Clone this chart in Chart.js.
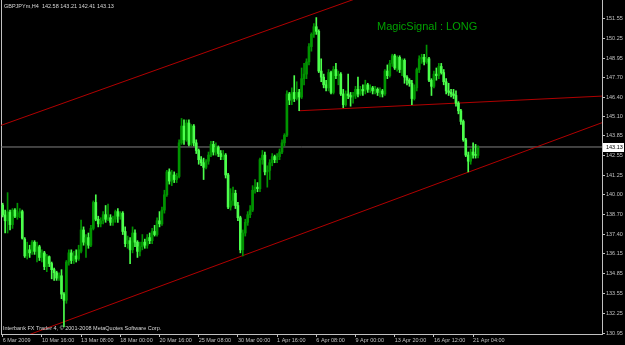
<!DOCTYPE html>
<html lang="en">
<head>
<meta charset="UTF-8">
<title>GBPJPYm,H4</title>
<script src="https://cdn.jsdelivr.net/npm/chart.js@4"></script>
<style>
  html, body { margin: 0; padding: 0; background: #000; }
  canvas { display: block; }
</style>
</head>
<body>
<canvas id="chart" width="625" height="345"></canvas>
<script>
const symbolTitle = 'GBPJPYm,H4';
const footerText = 'Interbank FX Trader 4, \u00a9 2001-2008 MetaQuotes Software Corp.';
const signalText = 'MagicSignal : LONG';

// H4 bars, oldest first
const opens = [
  139.33,138.68,138.30,138.85,138.05,139.00,138.55,138.80,138.90,137.10,
  136.00,136.40,136.30,136.90,136.30,136.60,135.90,136.20,135.30,135.95,
  135.50,135.10,134.90,134.55,134.70,133.50,133.10,135.60,136.20,135.70,
  136.00,135.80,136.30,137.70,136.80,137.20,136.70,137.80,139.50,138.40,
  138.10,138.30,138.70,138.40,138.50,138.20,138.40,138.90,138.60,138.80,
  137.60,136.80,137.00,136.40,137.50,136.90,136.30,136.60,136.90,136.70,
  137.20,137.00,137.60,137.40,138.30,138.10,139.00,140.00,141.50,140.90,
  141.30,141.00,141.20,143.40,144.50,143.60,144.70,143.30,144.50,143.40,
  142.90,142.30,142.10,141.80,142.20,142.60,143.30,142.80,143.10,142.70,
  142.50,142.60,141.30,139.20,139.60,140.10,139.30,138.50,136.40,137.50,
  138.20,138.70,139.00,140.30,140.50,140.40,142.30,142.60,141.50,141.60,
  142.10,142.50,142.30,142.50,142.80,143.40,143.90,146.60,146.20,146.70,
  146.30,146.70,146.40,147.60,147.90,148.70,149.70,150.50,151.00,150.70,
  148.10,147.70,147.20,147.00,148.00,146.70,148.20,147.80,147.90,146.60,
  145.90,146.60,146.50,146.40,146.50,146.90,146.60,146.90,146.80,147.20,
  146.90,147.00,146.80,146.90,146.70,146.80,146.60,148.10,147.80,148.60,
  149.10,148.30,149.00,148.20,148.80,147.70,147.50,147.30,146.30,147.00,
  148.20,148.90,149.00,148.70,148.90,147.50,147.10,147.90,147.80,148.40,
  148.00,147.40,146.80,146.70,146.60,146.50,146.00,145.50,144.80,143.60,
  142.60,142.20,142.80,142.60,142.58
];
const highs = [
  139.45,139.00,140.14,139.00,139.10,139.10,139.45,139.10,139.00,137.20,
  136.90,136.70,137.00,137.00,136.90,136.70,136.40,136.30,136.10,136.00,
  135.60,135.20,135.00,134.90,135.10,133.60,135.70,136.40,136.40,136.30,
  136.40,136.70,138.35,137.90,137.40,137.50,138.00,139.60,140.00,138.60,
  138.50,138.90,139.30,139.40,138.70,138.60,139.00,139.10,138.90,138.90,
  137.90,137.30,137.20,137.90,137.70,137.00,136.90,137.40,137.10,137.40,
  137.50,137.80,138.00,138.50,138.90,139.20,140.30,141.60,141.70,141.60,
  141.50,141.40,143.60,145.00,144.90,144.90,144.90,144.60,144.60,143.60,
  143.00,142.50,142.40,142.30,142.80,143.50,143.50,143.40,143.20,142.90,
  142.90,142.70,141.40,140.40,140.50,140.30,139.50,138.60,137.70,138.40,
  138.90,139.30,140.60,141.00,140.80,142.40,142.90,142.80,141.90,142.30,
  142.70,142.60,142.70,143.00,143.60,144.00,146.80,146.70,147.00,147.80,
  147.40,146.90,148.30,148.60,148.90,149.90,150.60,151.20,151.60,150.80,
  148.90,147.90,147.50,148.20,148.10,148.40,148.60,148.10,148.00,146.90,
  146.80,147.90,146.70,146.70,147.10,147.70,147.10,147.20,147.50,147.30,
  147.20,147.10,147.10,147.00,147.00,146.90,148.20,148.50,148.80,149.20,
  149.20,149.10,149.10,148.90,148.90,147.80,147.60,147.50,147.20,148.30,
  149.10,149.20,149.20,149.80,149.00,147.60,148.10,148.30,148.60,148.60,
  148.20,147.60,147.30,146.90,146.90,146.80,146.10,145.60,144.90,143.70,
  142.80,143.00,143.40,143.30,143.21
];
const lows = [
  138.55,137.50,137.50,137.70,137.80,138.50,138.40,138.50,137.10,135.90,
  135.80,135.90,136.10,136.10,135.60,135.70,135.60,135.10,134.97,135.30,
  134.50,134.40,134.40,134.40,133.20,131.35,132.90,135.40,135.50,135.50,
  135.60,135.70,136.20,136.70,135.90,136.50,136.60,137.70,138.30,137.90,
  137.90,138.10,138.20,138.30,138.00,138.00,138.20,138.20,138.40,137.40,
  136.60,136.50,135.50,136.20,136.60,135.90,136.00,136.40,136.50,136.50,
  136.80,136.80,137.30,137.30,137.90,138.00,138.80,139.90,140.70,140.60,
  140.80,140.80,141.10,143.30,143.30,143.50,143.20,143.20,143.20,142.70,
  142.00,141.90,141.00,141.70,142.00,142.50,142.60,142.60,142.50,142.30,
  142.30,141.10,139.10,139.00,139.30,139.10,138.30,136.20,136.00,137.30,
  138.00,138.50,138.90,140.10,140.20,140.20,142.00,141.30,140.50,141.00,
  141.90,142.10,142.10,142.30,142.70,143.20,143.80,145.90,145.90,146.10,
  146.20,145.50,146.30,147.20,147.60,148.50,149.40,150.30,150.50,148.00,
  147.40,147.00,146.80,146.80,146.60,146.60,147.60,147.20,146.50,145.70,
  145.80,146.30,145.80,146.00,146.30,146.40,146.50,146.50,146.60,146.70,
  146.70,146.60,146.60,146.50,146.40,146.40,146.50,147.60,147.70,148.40,
  148.20,148.10,148.00,147.80,147.30,147.20,147.10,145.90,146.20,146.80,
  148.00,148.60,148.50,148.60,147.40,146.50,147.00,147.50,147.60,147.90,
  147.20,146.60,146.50,146.40,146.30,145.80,145.30,144.60,143.50,142.50,
  141.50,142.00,142.40,142.40,142.41
];
const closes = [
  138.68,138.30,138.90,138.05,139.00,138.60,138.80,138.90,137.15,136.00,
  136.40,136.20,136.90,136.30,136.60,135.90,136.20,135.30,135.95,135.50,
  135.10,134.90,134.55,134.70,133.50,133.10,135.60,136.20,135.70,136.00,
  135.80,136.40,137.70,136.90,137.20,136.70,137.80,139.50,138.40,138.10,
  138.30,138.70,138.40,138.50,138.20,138.40,138.90,138.60,138.80,137.60,
  136.80,137.00,136.40,137.50,136.90,136.30,136.60,136.90,136.70,137.20,
  137.00,137.60,137.40,138.30,138.10,139.00,140.00,141.50,140.90,141.30,
  141.00,141.20,143.40,144.50,143.60,144.70,143.30,144.50,143.40,142.90,
  142.30,142.10,141.80,142.20,142.60,143.30,142.80,143.10,142.70,142.50,
  142.60,141.30,139.20,139.60,140.10,139.30,138.50,136.40,137.50,138.20,
  138.70,139.00,140.30,140.50,140.40,142.30,142.60,141.50,141.60,142.10,
  142.50,142.30,142.50,142.80,143.40,143.90,146.60,146.20,146.70,146.30,
  146.70,146.40,147.60,147.90,148.70,149.70,150.50,151.00,150.70,148.10,
  147.70,147.20,147.00,148.00,146.70,148.20,147.80,147.90,146.60,145.90,
  146.60,146.50,146.40,146.50,146.90,146.60,146.90,146.80,147.20,146.90,
  147.00,146.80,146.90,146.70,146.80,146.60,148.10,147.80,148.60,149.10,
  148.30,149.00,148.20,148.80,147.70,147.50,147.30,146.30,147.00,148.20,
  148.90,149.00,148.70,148.90,147.50,147.10,147.90,147.80,148.40,148.00,
  147.40,146.80,146.70,146.60,146.50,146.00,145.50,144.80,143.60,142.60,
  142.20,142.80,142.60,142.58,143.13
];

const timeLabels = ['6 Mar 2009', '10 Mar 16:00', '13 Mar 08:00', '18 Mar 00:00', '20 Mar 16:00',
  '25 Mar 08:00', '30 Mar 00:00', '1 Apr 16:00', '6 Apr 08:00', '9 Apr 00:00',
  '13 Apr 20:00', '16 Apr 12:00', '21 Apr 04:00'];
const labelStep = 16; // bars between time labels
const priceTicks = [151.55, 150.25, 148.95, 147.70, 146.40, 145.10, 143.85, 142.55, 141.25,
  140.00, 138.70, 137.40, 136.15, 134.85, 133.55, 132.25, 130.95];

// drawn lines, [bar index, price]
const upperChannel = [[-1.1, 144.52], [244.6, 158.59]];
const lowerChannel = [[-1.1, 130.14], [244.6, 144.72]];
const necklineLine = [[120.9, 145.50], [244.6, 146.46]];

const X_MIN = -0.69, X_MAX = 244.6;
const Y_MIN = 130.89, Y_MAX = 152.75;
const FG = '#c0c0c0';
const smallFont = {family: 'Liberation Sans', size: 5.5};

const last = closes.length - 1;
const lastPrice = closes[last];
const candleColors = closes.map((c, i) => c >= opens[i] ? '#009400' : '#4cff4c');
const toPoints = arr => arr.map(p => ({x: p[0], y: p[1]}));

const textOverlay = {
  id: 'textOverlay',
  beforeDraw(chart) {
    const ctx = chart.ctx;
    ctx.save();
    ctx.fillStyle = '#000000';
    ctx.fillRect(0, 0, chart.width, chart.height);
    ctx.restore();
  },
  afterDraw(chart) {
    const {ctx, chartArea, scales} = chart;
    ctx.save();
    ctx.textBaseline = 'middle';
    ctx.textAlign = 'left';
    ctx.font = '5.5px "Liberation Sans"';
    ctx.fillStyle = '#d8d8d8';
    const head = [opens[last], highs[last], lows[last], closes[last]].map(v => v.toFixed(2)).join(' ');
    ctx.fillText(symbolTitle + '  ' + head, 4, 6);
    ctx.fillText(footerText, 3, chartArea.bottom - 5.5);

    ctx.font = '11px "Liberation Sans"';
    ctx.fillStyle = '#00a000';
    ctx.fillText(signalText, 377, 27);

    // current price box on the price axis
    const py = Math.round(scales.y.getPixelForValue(lastPrice));
    ctx.fillStyle = '#ffffff';
    ctx.fillRect(chartArea.right + 1, py - 4, 21, 9);
    ctx.fillStyle = '#000000';
    ctx.font = '5.5px "Liberation Sans"';
    ctx.fillText(lastPrice.toFixed(2), chartArea.right + 4, py + 0.5);
    ctx.restore();
  }
};

function lineSet(points, color) {
  return {
    type: 'line', data: toPoints(points), borderColor: color, borderWidth: 1,
    pointRadius: 0, fill: false, tension: 0, order: 5, xAxisID: 'x', yAxisID: 'y'
  };
}

new Chart(document.getElementById('chart'), {
  type: 'bar',
  data: {
    datasets: [
      lineSet(upperChannel, '#b00000'),
      lineSet(lowerChannel, '#b00000'),
      lineSet(necklineLine, '#b00000'),
      lineSet([[X_MIN, lastPrice], [X_MAX, lastPrice]], '#808080'),
      {
        label: 'wicks',
        data: highs.map((h, i) => ({x: i, y: [lows[i], h]})),
        backgroundColor: candleColors, borderWidth: 0,
        barThickness: 1, grouped: false, order: 1
      },
      {
        label: 'bodies',
        data: closes.map((c, i) => ({x: i, y: [opens[i], c]})),
        backgroundColor: candleColors, borderWidth: 0,
        barThickness: 2, minBarLength: 1, grouped: false, order: 0
      }
    ]
  },
  options: {
    responsive: false,
    devicePixelRatio: 1,
    animation: false,
    events: [],
    layout: {padding: 0},
    plugins: {legend: {display: false}, tooltip: {enabled: false}},
    scales: {
      x: {
        type: 'linear', position: 'bottom', min: X_MIN, max: X_MAX, offset: false,
        grid: {drawOnChartArea: false, offset: false, color: FG, tickLength: 3},
        border: {color: FG},
        afterBuildTicks: s => { s.ticks = timeLabels.map((t, k) => ({value: k * labelStep})); },
        ticks: {
          align: 'start', autoSkip: false, maxRotation: 0, padding: 0,
          color: FG, font: smallFont,
          callback: (v, k) => timeLabels[k]
        },
        afterFit: s => { s.height = 11; s.paddingLeft = 0; s.paddingRight = 0; }
      },
      y: {
        type: 'linear', position: 'right', min: Y_MIN, max: Y_MAX,
        grid: {drawOnChartArea: false, color: FG, tickLength: 3},
        border: {color: FG},
        afterBuildTicks: s => { s.ticks = priceTicks.map(v => ({value: v})); },
        ticks: {
          autoSkip: false, padding: 1, color: FG, font: smallFont,
          callback: v => v.toFixed(2)
        },
        afterFit: s => { s.width = 23; s.paddingTop = 0; s.paddingBottom = 0; }
      },
      yLeft: {
        type: 'linear', position: 'left', min: Y_MIN, max: Y_MAX,
        grid: {drawOnChartArea: false, drawTicks: false},
        border: {color: FG},
        ticks: {display: false},
        afterFit: s => { s.width = 1; s.paddingTop = 0; s.paddingBottom = 0; }
      }
    }
  },
  plugins: [textOverlay]
});
</script>
</body>
</html>
